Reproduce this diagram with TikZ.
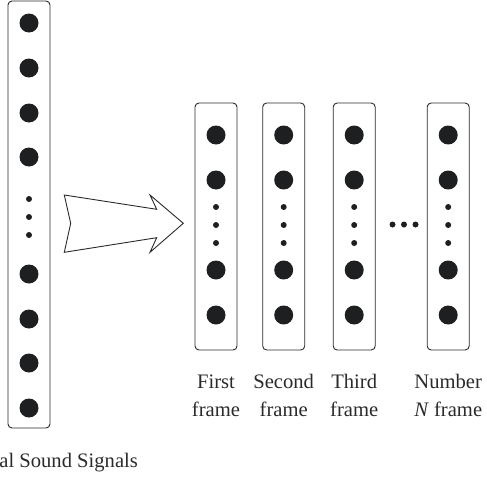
\documentclass[tikz,border=0pt]{standalone}
\usepackage{fontspec}
\setmainfont{Liberation Serif}
\usepackage{tikz}
\usetikzlibrary{positioning}

\definecolor{inkgray}{HTML}{2A2A2A}
\definecolor{dotblack}{HTML}{1E1F20}

\tikzset{
  framebox/.style={draw=inkgray, line width=0.9pt, rounded corners=4pt,
    minimum width=42pt, minimum height=247pt, inner sep=0pt},
  bigdot/.style={circle, fill=dotblack, minimum size=19pt, inner sep=0pt},
  smalldot/.style={circle, fill=dotblack, minimum size=6pt, inner sep=0pt},
  framelabel/.style={text=inkgray, align=center, inner sep=0pt,
    font=\fontsize{20.6}{28.5}\selectfont}
}

\begin{document}
\begin{tikzpicture}[x=1pt,y=-1pt]
\useasboundingbox (0,0) rectangle (487,479);

% the whole signal
\node[framebox, minimum height=427pt] (S) at (29,214.5) {};
\foreach \y [count=\i] in {23,68,113,157,274,319,363,408}
  \node[bigdot] (s\i) at (29,\y) {};
\foreach \y [count=\i] in {199,217,235}
  \node[smalldot] (sd\i) at (29,\y) {};
\node[framelabel, anchor=base west] (cap) at (-0.8,467.3) {al Sound Signals};

% big arrow
\draw[draw=inkgray, line width=0.9pt, line join=miter]
  (64.3,195) -- (156.7,209.3) -- (150,195) -- (183.3,223.3) -- (150,252.3)
  -- (156.7,237.7) -- (64.3,252.3) -- (70.7,223.3) -- cycle;

% frames
\node[framebox] (F1) at (216,226.5) {};
\node[framebox] (F2) [right of=F1, node distance=67.7pt] {};
\node[framebox] (F3) [right of=F2, node distance=70.5pt] {};
\node[framebox] (F4) [right of=F3, node distance=94pt] {};

\foreach \f in {F1,F2,F3,F4} {
  \foreach \dy [count=\i] in {91.5,46.5,-43.5,-88.5}
    \node[bigdot] (\f-b\i) at ([yshift=\dy pt]\f.center) {};
  \foreach \dy [count=\i] in {19.5,1.5,-16.5}
    \node[smalldot] (\f-s\i) at ([yshift=\dy pt]\f.center) {};
}

% dots between third and last frame
\node[smalldot] (h1) at (392.5,224.5) {};
\node[smalldot] (h2) [right of=h1, node distance=11.5pt] {};
\node[smalldot] (h3) [right of=h2, node distance=11.5pt] {};

% frame labels (base is the last line)
\node[framelabel, anchor=base] (L1) at ([yshift=-190.2pt]F1.center) {First\\frame};
\node[framelabel, anchor=base] (L2) at ([yshift=-190.2pt]F2.center) {Second\\frame};
\node[framelabel, anchor=base] (L3) at ([yshift=-190.2pt]F3.center) {Third\\frame};
\node[framelabel, anchor=base] (L4) at ([yshift=-190.2pt]F4.center) {Number\\\textit{N} frame};
\end{tikzpicture}
\end{document}
